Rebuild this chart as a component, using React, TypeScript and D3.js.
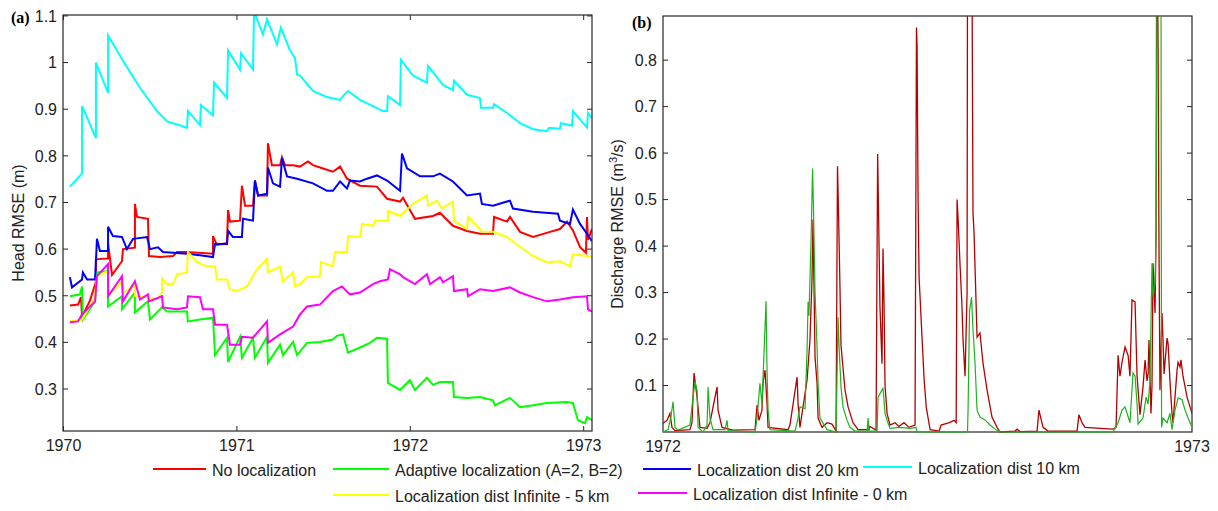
import React from 'react';
import * as d3 from 'd3';

type Pt = [number, number];

// ---- panel (a): time in years since 1970, head RMSE (m) ----
const noLocalization: Pt[] = [
  [0.037, 0.479], [0.084, 0.481], [0.101, 0.497], [0.107, 0.455], [0.153, 0.49], [0.187, 0.53], [0.187, 0.578],
  [0.257, 0.58], [0.257, 0.612], [0.28, 0.545], [0.337, 0.574], [0.343, 0.6], [0.412, 0.603], [0.412, 0.697],
  [0.424, 0.669], [0.487, 0.665], [0.493, 0.585], [0.557, 0.583], [0.631, 0.585], [0.655, 0.594], [0.712, 0.594],
  [0.862, 0.59], [0.862, 0.628], [0.885, 0.609], [0.943, 0.613], [0.949, 0.684], [0.96, 0.659], [1.018, 0.661],
  [1.029, 0.736], [1.047, 0.693], [1.093, 0.693], [1.104, 0.747], [1.122, 0.715], [1.174, 0.715], [1.179, 0.827],
  [1.202, 0.78], [1.249, 0.78], [1.26, 0.797], [1.277, 0.78], [1.324, 0.78], [1.364, 0.777], [1.41, 0.788],
  [1.439, 0.78], [1.497, 0.773], [1.554, 0.766], [1.595, 0.777], [1.635, 0.751], [1.71, 0.736], [1.808, 0.734],
  [1.866, 0.708], [1.941, 0.702], [1.958, 0.71], [2.027, 0.665], [2.131, 0.671], [2.171, 0.678], [2.246, 0.65],
  [2.327, 0.639], [2.402, 0.633], [2.477, 0.633], [2.483, 0.669], [2.558, 0.659], [2.575, 0.669], [2.633, 0.637],
  [2.708, 0.626], [2.806, 0.637], [2.863, 0.643], [2.904, 0.659], [2.938, 0.64], [2.979, 0.604], [3.013, 0.592],
  [3.019, 0.669], [3.025, 0.62], [3.048, 0.643],
];

const adaptiveLocalization: Pt[] = [
  [0.037, 0.499], [0.095, 0.503], [0.107, 0.52], [0.112, 0.449], [0.182, 0.488], [0.193, 0.55], [0.257, 0.553],
  [0.257, 0.477], [0.337, 0.499], [0.337, 0.471], [0.412, 0.507], [0.412, 0.464], [0.487, 0.488], [0.499, 0.449],
  [0.568, 0.475], [0.597, 0.466], [0.712, 0.466], [0.718, 0.445], [0.787, 0.449], [0.862, 0.453], [0.874, 0.373],
  [0.943, 0.41], [0.949, 0.358], [1.018, 0.412], [1.029, 0.367], [1.093, 0.41], [1.104, 0.367], [1.174, 0.412],
  [1.179, 0.356], [1.249, 0.395], [1.266, 0.373], [1.324, 0.401], [1.347, 0.373], [1.364, 0.38], [1.404, 0.399],
  [1.479, 0.401], [1.554, 0.406], [1.577, 0.414], [1.612, 0.417], [1.641, 0.378], [1.71, 0.389], [1.768, 0.399],
  [1.808, 0.41], [1.866, 0.408], [1.871, 0.313], [1.941, 0.298], [1.998, 0.319], [2.027, 0.298], [2.096, 0.324],
  [2.131, 0.309], [2.171, 0.315], [2.246, 0.315], [2.252, 0.283], [2.327, 0.281], [2.402, 0.283], [2.477, 0.276],
  [2.488, 0.265], [2.575, 0.281], [2.633, 0.261], [2.708, 0.265], [2.788, 0.27], [2.904, 0.272], [2.938, 0.27],
  [2.967, 0.233], [3.008, 0.227], [3.019, 0.24], [3.048, 0.233],
];

const dist20km: Pt[] = [
  [0.037, 0.54], [0.049, 0.518], [0.107, 0.535], [0.112, 0.55], [0.136, 0.535], [0.182, 0.535], [0.193, 0.622],
  [0.21, 0.596], [0.257, 0.596], [0.257, 0.648], [0.285, 0.628], [0.337, 0.626], [0.366, 0.6], [0.401, 0.622],
  [0.482, 0.626], [0.499, 0.6], [0.545, 0.604], [0.574, 0.594], [0.712, 0.59], [0.787, 0.587], [0.862, 0.583],
  [0.874, 0.611], [0.943, 0.611], [0.949, 0.639], [0.977, 0.626], [1.029, 0.626], [1.035, 0.665], [1.093, 0.661],
  [1.104, 0.747], [1.122, 0.715], [1.174, 0.719], [1.179, 0.775], [1.208, 0.741], [1.249, 0.734], [1.26, 0.795],
  [1.289, 0.756], [1.347, 0.751], [1.439, 0.741], [1.52, 0.725], [1.554, 0.725], [1.595, 0.745], [1.635, 0.73],
  [1.652, 0.747], [1.71, 0.745], [1.75, 0.751], [1.808, 0.758], [1.866, 0.747], [1.941, 0.725], [1.952, 0.805],
  [1.981, 0.773], [2.056, 0.756], [2.131, 0.756], [2.171, 0.762], [2.246, 0.745], [2.327, 0.715], [2.402, 0.719],
  [2.413, 0.697], [2.477, 0.693], [2.575, 0.704], [2.592, 0.687], [2.708, 0.68], [2.852, 0.676], [2.863, 0.661],
  [2.921, 0.654], [2.938, 0.685], [2.979, 0.654], [3.019, 0.633], [3.048, 0.617],
];

const dist10km: Pt[] = [
  [0.037, 0.734], [0.107, 0.762], [0.107, 0.907], [0.187, 0.838], [0.187, 1.0], [0.257, 0.935], [0.257, 1.058],
  [0.343, 1.004], [0.441, 0.946], [0.539, 0.896], [0.597, 0.874], [0.683, 0.864], [0.712, 0.86], [0.718, 0.896],
  [0.787, 0.866], [0.793, 0.909], [0.862, 0.887], [0.868, 0.957], [0.943, 0.924], [0.949, 1.026], [1.018, 0.985],
  [1.024, 1.02], [1.093, 0.985], [1.099, 1.11], [1.15, 1.06], [1.174, 1.093], [1.231, 1.039], [1.254, 1.075],
  [1.306, 1.026], [1.335, 1.01], [1.347, 0.974], [1.364, 0.972], [1.439, 0.939], [1.52, 0.926], [1.595, 0.92],
  [1.612, 0.928], [1.641, 0.939], [1.71, 0.92], [1.843, 0.896], [1.866, 0.896], [1.871, 0.928], [1.941, 0.909],
  [1.946, 1.006], [2.016, 0.972], [2.096, 0.957], [2.102, 0.993], [2.189, 0.952], [2.246, 0.941], [2.252, 0.961],
  [2.327, 0.931], [2.402, 0.924], [2.408, 0.903], [2.477, 0.903], [2.483, 0.911], [2.558, 0.892], [2.633, 0.87],
  [2.708, 0.857], [2.788, 0.853], [2.8, 0.86], [2.863, 0.858], [2.869, 0.87], [2.933, 0.865], [2.938, 0.896],
  [3.019, 0.861], [3.025, 0.892], [3.048, 0.881],
];

const distInf5km: Pt[] = [
  [0.037, 0.445], [0.107, 0.449], [0.182, 0.497], [0.193, 0.542], [0.257, 0.553], [0.257, 0.5], [0.337, 0.53],
  [0.343, 0.505], [0.412, 0.525], [0.412, 0.5], [0.482, 0.497], [0.539, 0.492], [0.568, 0.507], [0.568, 0.538],
  [0.597, 0.525], [0.631, 0.525], [0.655, 0.546], [0.712, 0.55], [0.718, 0.594], [0.77, 0.572], [0.828, 0.563],
  [0.874, 0.563], [0.885, 0.535], [0.943, 0.535], [0.96, 0.514], [1.001, 0.51], [1.058, 0.52], [1.116, 0.557],
  [1.174, 0.579], [1.179, 0.55], [1.249, 0.563], [1.266, 0.531], [1.324, 0.55], [1.335, 0.52], [1.364, 0.525],
  [1.404, 0.54], [1.479, 0.542], [1.485, 0.572], [1.554, 0.563], [1.566, 0.594], [1.635, 0.594], [1.641, 0.628],
  [1.71, 0.626], [1.721, 0.654], [1.785, 0.65], [1.796, 0.661], [1.871, 0.661], [1.871, 0.682], [1.941, 0.671],
  [2.016, 0.697], [2.096, 0.715], [2.102, 0.693], [2.154, 0.704], [2.183, 0.687], [2.246, 0.702], [2.252, 0.661],
  [2.327, 0.643], [2.333, 0.669], [2.402, 0.643], [2.413, 0.637], [2.477, 0.637], [2.558, 0.626], [2.633, 0.605],
  [2.708, 0.585], [2.788, 0.572], [2.863, 0.574], [2.921, 0.563], [2.938, 0.589], [3.019, 0.585], [3.048, 0.583],
];

const distInf0km: Pt[] = [
  [0.037, 0.443], [0.084, 0.445], [0.107, 0.46], [0.182, 0.488], [0.193, 0.542], [0.257, 0.568], [0.257, 0.499],
  [0.337, 0.542], [0.343, 0.488], [0.412, 0.531], [0.441, 0.492], [0.487, 0.503], [0.493, 0.488], [0.568, 0.499],
  [0.574, 0.475], [0.655, 0.471], [0.712, 0.475], [0.718, 0.499], [0.787, 0.497], [0.804, 0.471], [0.862, 0.471],
  [0.874, 0.438], [0.943, 0.438], [0.96, 0.395], [1.018, 0.395], [1.029, 0.412], [1.093, 0.41], [1.174, 0.445],
  [1.179, 0.399], [1.249, 0.417], [1.324, 0.434], [1.364, 0.46], [1.404, 0.477], [1.479, 0.481], [1.554, 0.51],
  [1.606, 0.52], [1.652, 0.503], [1.71, 0.507], [1.785, 0.525], [1.825, 0.531], [1.871, 0.535], [1.883, 0.557],
  [1.941, 0.546], [1.958, 0.54], [2.027, 0.525], [2.096, 0.546], [2.114, 0.525], [2.171, 0.54], [2.189, 0.529],
  [2.246, 0.542], [2.252, 0.51], [2.327, 0.514], [2.333, 0.499], [2.402, 0.514], [2.477, 0.51], [2.575, 0.518],
  [2.633, 0.507], [2.708, 0.497], [2.788, 0.488], [2.863, 0.492], [2.938, 0.497], [3.019, 0.499], [3.025, 0.471],
  [3.048, 0.466],
];

// ---- panel (b): day of 1972, discharge RMSE (m3/s) ----
const dischargeNoLoc: Pt[] = [
  [0, 0.019], [2.8, 0.025], [4.8, 0.04], [6.2, 0.01], [8.3, 0.003], [18.6, 0.005], [20, 0.02], [21.4, 0.127],
  [23.5, 0.075], [25.5, 0.01], [30.4, 0.008], [32.4, 0.02], [37.3, 0.097], [38, 0.047], [40.7, 0.01], [48.3, 0.004],
  [63.5, 0.005], [64.9, 0.058], [66.2, 0.025], [68.3, 0.047], [69, 0.105], [70.4, 0.133], [71.8, 0.06], [72.5, 0.01],
  [86.3, 0.005], [87.6, 0.015], [92.5, 0.118], [93.2, 0.06], [94.5, 0.01], [96.6, 0.054], [99.4, 0.112],
  [101.4, 0.198], [102.8, 0.327], [103.5, 0.457], [104.9, 0.161], [106.3, 0.105], [107, 0.03], [109.7, 0.01],
  [113.2, 0.02], [116.6, 0.017], [119.4, 0.002], [120.4, 0.572], [121.1, 0.474], [122.1, 0.312], [122.8, 0.187],
  [125.6, 0.09], [127.7, 0.054], [131.1, 0.02], [134.6, 0.005], [142.1, 0.005], [142.8, 0.012], [147, 0.004],
  [148.1, 0.598], [148.8, 0.457], [149.7, 0.27], [151.1, 0.147], [151.8, 0.395], [152.5, 0.28], [153.2, 0.1],
  [154.6, 0.04], [156.6, 0.015], [160.1, 0.02], [162.8, 0.012], [166.3, 0.02], [169.7, 0.01], [173.9, 0.015],
  [174.9, 0.87], [175.3, 0.83], [176, 0.5], [176.7, 0.333], [178.8, 0.198], [180.2, 0.112], [181.6, 0.054],
  [184.3, 0.005], [190.5, 0.002], [191.9, 0.015], [197.5, 0.02], [200.9, 0.025], [202.3, 0.02], [202.9, 0.5],
  [203.6, 0.46], [204.9, 0.363], [206.3, 0.27], [207, 0.2], [208.4, 0.12], [209.8, 0.3], [210.1, 1.0],
  [213.2, 1.0], [213.6, 0.68], [213.9, 0.47], [214.6, 0.43], [216.7, 0.204], [218.7, 0.213], [220.8, 0.148],
  [223.6, 0.09], [227, 0.032], [230.5, 0.01], [232.5, 0.0], [242.9, 0.002], [244.3, 0.006], [246.3, 0.001],
  [258.1, 0.002], [259.4, 0.047], [262.2, 0.01], [265.7, 0.002], [285.7, 0.002], [287, 0.037], [289.1, 0.02],
  [291.2, 0.01], [301.5, 0.008], [310.5, 0.006], [312.6, 0.01], [314, 0.165], [315.3, 0.12], [316.7, 0.15],
  [318.8, 0.183], [320.9, 0.165], [322.2, 0.12], [323.6, 0.284], [325.7, 0.28], [327.1, 0.12], [329.1, 0.037],
  [331.2, 0.097], [332.6, 0.155], [334, 0.11], [334.7, 0.125], [335.3, 0.198], [336.7, 0.04], [337.4, 0.1],
  [338.1, 0.363], [339.5, 0.256], [340.2, 0.43], [340.6, 1.0], [341.2, 1.0], [341.6, 0.828], [342.2, 0.413],
  [342.9, 0.09], [344.3, 0.256], [345, 0.198], [345.7, 0.125], [347.8, 0.202], [348.5, 0.19], [349.8, 0.11],
  [351.2, 0.04], [351.9, 0.02], [354.7, 0.133], [355.4, 0.15], [356.7, 0.14], [357.4, 0.155], [358.8, 0.12],
  [361.6, 0.075], [365, 0.04],
];

const dischargeAdaptive: Pt[] = [
  [0, 0.0], [3.5, 0.005], [5.5, 0.033], [6.9, 0.065], [8.3, 0.01], [10.4, 0.004], [18.6, 0.015], [20.7, 0.075],
  [22.1, 0.108], [23.5, 0.09], [24.2, 0.01], [27.6, 0.0], [30.4, 0.015], [31.1, 0.097], [32.4, 0.03], [34.5, 0.005],
  [42.8, 0.005], [44.2, 0.025], [44.9, 0.003], [63.5, 0.0], [64.9, 0.03], [66.9, 0.105], [68.3, 0.06], [69.7, 0.17],
  [71.1, 0.282], [71.8, 0.127], [72.5, 0.047], [73.8, 0.005], [91.1, 0.002], [93.2, 0.03], [94.5, 0.054],
  [98, 0.05], [99.4, 0.176], [100.1, 0.28], [100.7, 0.25], [102.1, 0.406], [103.2, 0.567], [103.8, 0.486],
  [104.9, 0.3], [106.3, 0.183], [107, 0.105], [108.3, 0.03], [113.2, 0.005], [119.4, 0.0], [120.8, 0.247],
  [121.4, 0.19], [122.8, 0.097], [124.2, 0.054], [127, 0.025], [129, 0.01], [132.5, 0.002], [140.8, 0.002],
  [141.5, 0.03], [142.1, 0.002], [147.7, 0.002], [148.4, 0.075], [151.1, 0.09], [151.8, 0.095], [153.2, 0.04],
  [154.6, 0.025], [156.6, 0.008], [163.5, 0.01], [170.4, 0.008], [174.6, 0.01], [175.3, 0.0], [210.1, 0.0],
  [210.5, 0.05], [211.5, 0.26], [212.9, 0.29], [213.9, 0.22], [215.3, 0.148], [216.7, 0.047], [218.7, 0.032],
  [222.2, 0.026], [225.6, 0.015], [230.5, 0.003], [232.5, 0.0], [310.5, 0.0], [314, 0.02], [316.7, 0.047],
  [318.8, 0.054], [322.2, 0.02], [324.3, 0.127], [325.7, 0.12], [327.1, 0.06], [327.8, 0.017], [331.2, 0.03],
  [333.3, 0.075], [334.7, 0.06], [336, 0.11], [337.4, 0.363], [338.1, 0.29], [339.5, 0.32], [340.2, 0.428],
  [340.9, 1.0], [343.6, 1.0], [344, 0.01], [345, 0.03], [347.8, 0.02], [349.8, 0.04], [351.2, 0.005],
  [353.3, 0.047], [355.4, 0.073], [358.1, 0.07], [360.2, 0.047], [362.3, 0.03], [365, 0.01],
];

const headTicks = [0.3, 0.4, 0.5, 0.6, 0.7, 0.8, 0.9, 1.0, 1.1];
const headYears = [1970, 1971, 1972, 1973];
const dischargeTicks = [0.1, 0.2, 0.3, 0.4, 0.5, 0.6, 0.7, 0.8];
const dischargeYears = [1972, 1973];

const headSeries = [
  { name: 'No localization', color: '#ff0000', data: noLocalization },
  { name: 'Adaptive localization (A=2, B=2)', color: '#00ff00', data: adaptiveLocalization },
  { name: 'Localization dist 20 km', color: '#0000ff', data: dist20km },
  { name: 'Localization dist 10 km', color: '#00ffff', data: dist10km },
  { name: 'Localization dist Infinite - 5 km', color: '#ffff00', data: distInf5km },
  { name: 'Localization dist Infinite - 0 km', color: '#ff00ff', data: distInf0km },
];

// legend placement (hand laid out like the original figure)
const legendLayout = [
  { x: 153, y: 469, len: 53 },
  { x: 333, y: 469, len: 56 },
  { x: 643, y: 469, len: 48 },
  { x: 863, y: 467, len: 49 },
  { x: 333, y: 495, len: 56 },
  { x: 638, y: 493, len: 49 },
];

const FONT = "'Liberation Sans', Arial, sans-serif";
const AXIS = '#262626';
const TICK = 5;

function Frame({ x0, x1, y0, y1 }: { x0: number; x1: number; y0: number; y1: number }) {
  return (
    <rect x={x0} y={y0} width={x1 - x0} height={y1 - y0} fill="none" stroke={AXIS} strokeWidth={1.2} />
  );
}

const App: React.FC = () => {
  // panel (a)
  const ax = d3.scaleLinear().domain([1970, 1973.048]).range([63.5, 592]);
  const ay = d3.scaleLinear().domain([0.21, 1.102]).range([431, 15]);
  const aLine = d3
    .line<Pt>()
    .x(d => ax(1970 + d[0]))
    .y(d => ay(d[1]));

  // panel (b)
  const bx = d3.scaleLinear().domain([0, 365]).range([663, 1192]);
  const by = d3.scaleLinear().domain([0, 0.895]).range([432, 16]);
  const bLine = d3
    .line<Pt>()
    .x(d => bx(d[0]))
    .y(d => by(d[1]));

  const aL = 63, aR = 592, aT = 15, aB = 431;
  const bL = 663, bR = 1192, bT = 16, bB = 432;

  return (
    <svg
      width={1218}
      height={511}
      style={{ position: 'absolute', left: 0, top: 0, background: '#fff' }}
      fontFamily={FONT}
    >
      <defs>
        <clipPath id="clipA">
          <rect x={aL} y={aT} width={aR - aL} height={aB - aT} />
        </clipPath>
        <clipPath id="clipB">
          <rect x={bL} y={bT} width={bR - bL} height={bB - bT + 1} />
        </clipPath>
      </defs>
      <rect width={1218} height={511} fill="#fff" />

      {/* ---------- panel (a) ---------- */}
      <g clipPath="url(#clipA)">
        {headSeries.map(s => (
          <path
            key={s.name}
            d={aLine(s.data) || ''}
            fill="none"
            stroke={s.color}
            strokeWidth={2}
            strokeLinejoin="miter"
          />
        ))}
      </g>
      <Frame x0={aL} x1={aR} y0={aT} y1={aB} />
      {headTicks.map(t => (
        <g key={t}>
          <line x1={aL} x2={aL + TICK} y1={ay(t)} y2={ay(t)} stroke={AXIS} />
          <line x1={aR} x2={aR - TICK} y1={ay(t)} y2={ay(t)} stroke={AXIS} />
          <text x={aL - 6} y={ay(t)} dy="0.36em" textAnchor="end" fontSize={16} fill="#222">
            {String(+t.toFixed(1))}
          </text>
        </g>
      ))}
      {headYears.map(yr => (
        <g key={yr}>
          <line x1={ax(yr)} x2={ax(yr)} y1={aB} y2={aB - TICK} stroke={AXIS} />
          <line x1={ax(yr)} x2={ax(yr)} y1={aT} y2={aT + TICK} stroke={AXIS} />
          <text x={ax(yr)} y={451} textAnchor="middle" fontSize={16} fill="#222">
            {yr}
          </text>
        </g>
      ))}
      <text
        transform={`translate(24, ${(aT + aB) / 2}) rotate(-90)`}
        textAnchor="middle"
        fontSize={16}
        fill="#222"
      >
        Head RMSE (m)
      </text>
      <text x={11} y={23} fontFamily="'Liberation Serif', 'Times New Roman', serif" fontWeight="bold" fontSize={16}>
        (a)
      </text>

      {/* ---------- panel (b) ---------- */}
      <Frame x0={bL} x1={bR} y0={bT} y1={bB} />
      <g clipPath="url(#clipB)">
        <path d={bLine(dischargeNoLoc) || ''} fill="none" stroke="#b50000" strokeWidth={1.3} />
        <path d={bLine(dischargeAdaptive) || ''} fill="none" stroke="#1cb41c" strokeWidth={1.2} />
      </g>
      {dischargeTicks.map(t => (
        <g key={t}>
          <line x1={bL} x2={bL + TICK} y1={by(t)} y2={by(t)} stroke={AXIS} />
          <line x1={bR} x2={bR - TICK} y1={by(t)} y2={by(t)} stroke={AXIS} />
          <text x={bL - 6} y={by(t)} dy="0.36em" textAnchor="end" fontSize={16} fill="#222">
            {String(+t.toFixed(1))}
          </text>
        </g>
      ))}
      {dischargeYears.map((yr, i) => (
        <text key={yr} x={bx(i * 365)} y={452} textAnchor="middle" fontSize={16} fill="#222">
          {yr}
        </text>
      ))}
      <text
        transform={`translate(623, ${(bT + bB) / 2}) rotate(-90)`}
        textAnchor="middle"
        fontSize={16}
        fill="#222"
      >
        Discharge RMSE (m
        <tspan fontSize={11} dy={-6}>3</tspan>
        <tspan dy={6}>/s)</tspan>
      </text>
      <text x={632} y={28} fontFamily="'Liberation Serif', 'Times New Roman', serif" fontWeight="bold" fontSize={16}>
        (b)
      </text>

      {/* ---------- legend ---------- */}
      {headSeries.map((s, i) => {
        const p = legendLayout[i];
        return (
          <g key={s.name}>
            <line x1={p.x} x2={p.x + p.len} y1={p.y} y2={p.y} stroke={s.color} strokeWidth={2} />
            <text x={p.x + p.len + 6} y={p.y + 7} fontSize={16} fill="#222">
              {s.name}
            </text>
          </g>
        );
      })}
    </svg>
  );
};

export default App;
